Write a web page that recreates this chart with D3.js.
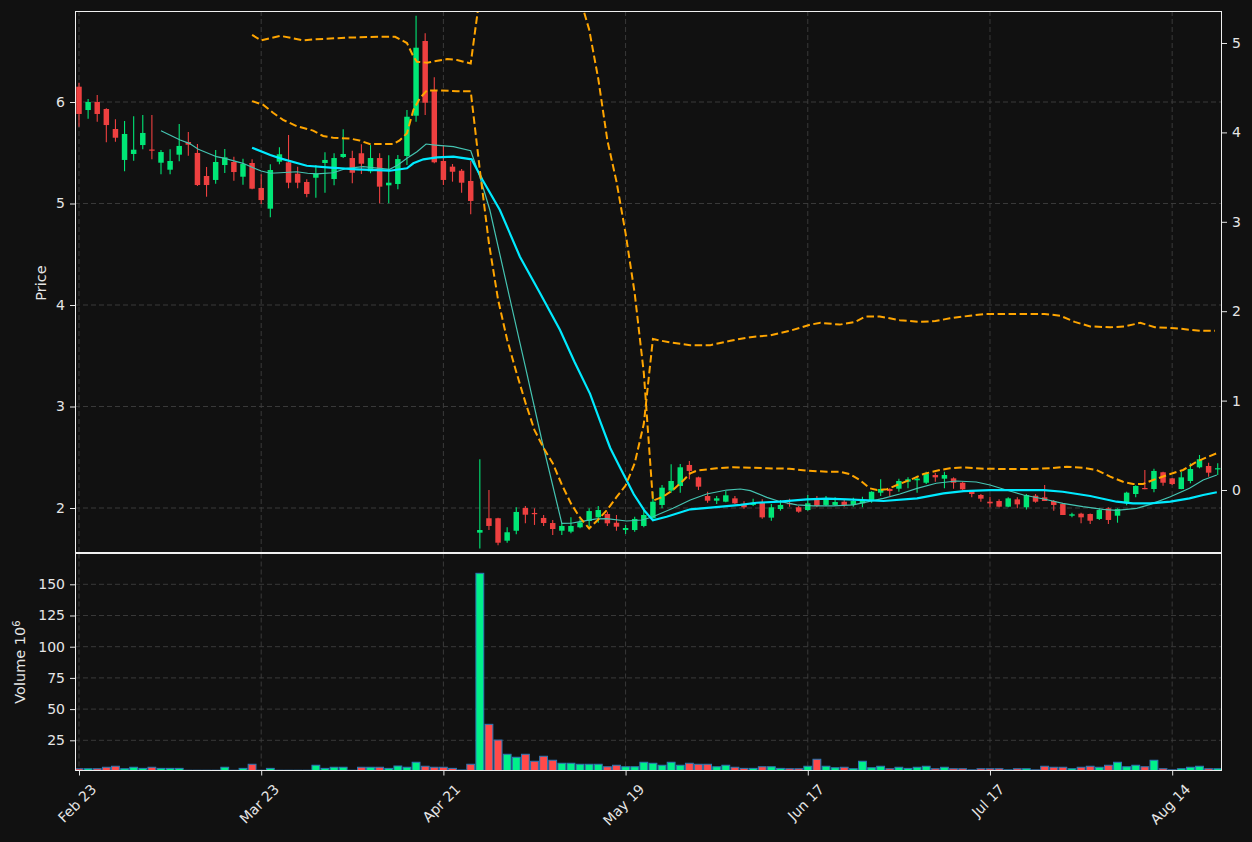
<!DOCTYPE html>
<html>
<head>
<meta charset="utf-8">
<script src="https://cdn.jsdelivr.net/npm/d3@7"></script>
<style>
html,body{margin:0;padding:0;background:#111111;}
svg{display:block;}
text{font-family:"DejaVu Sans",sans-serif;}
</style>
</head>
<body>
<svg id="chart" width="1252" height="842"></svg>
<script>
// ---------------- DATA ----------------
const dateTickIdx = [0, 20, 40, 60, 80, 100, 120];
const dateLabels = ["Feb 23", "Mar 23", "Apr 21", "May 19", "Jun 17", "Jul 17", "Aug 14"];
const priceTicks = [2, 3, 4, 5, 6];
const rightTicks = [0, 1, 2, 3, 4, 5];
const volTicks = [25, 50, 75, 100, 125, 150];

const opens = [6.151,5.921,6.000,5.931,5.734,5.429,5.488,5.576,5.532,5.402,5.333,5.481,5.606,5.498,5.271,5.232,5.379,5.409,5.264,5.399,
5.153,4.949,5.412,5.406,5.294,5.212,5.254,5.399,5.241,5.458,5.448,5.495,5.317,5.448,5.179,5.192,5.468,5.865,6.601,6.108,
5.419,5.363,5.323,5.222,1.757,1.899,1.899,1.678,1.776,2.000,1.951,1.902,1.852,1.776,1.767,1.810,1.872,1.908,1.941,1.855,
1.783,1.783,1.823,1.899,2.030,2.171,2.217,2.424,2.302,2.118,2.072,2.062,2.095,2.037,2.030,2.052,1.905,1.990,2.049,2.007,
1.980,2.079,2.030,2.030,2.062,2.030,2.046,2.069,2.151,2.187,2.190,2.259,2.273,2.249,2.325,2.289,2.292,2.249,2.171,2.128,
2.062,2.069,2.013,2.085,2.007,2.121,2.105,2.069,2.039,1.924,1.944,1.941,1.892,1.997,1.924,2.046,2.138,2.197,2.187,2.352,
2.292,2.187,2.266,2.401,2.414,2.382];
const highs = [6.190,6.030,6.069,5.938,5.830,5.813,5.859,5.872,5.872,5.527,5.534,5.783,5.704,5.586,5.360,5.527,5.537,5.461,5.441,5.435,
5.288,5.386,5.554,5.675,5.363,5.238,5.379,5.504,5.495,5.731,5.520,5.583,5.576,5.495,5.475,5.478,5.921,6.850,6.677,6.243,
5.576,5.389,5.340,5.419,2.480,2.177,1.905,1.810,2.007,2.020,1.997,1.931,1.882,1.849,1.909,1.888,1.997,2.020,1.964,1.931,
1.833,1.915,1.980,2.160,2.227,2.430,2.433,2.463,2.309,2.160,2.118,2.167,2.118,2.066,2.092,2.085,2.039,2.079,2.092,2.020,
2.128,2.118,2.118,2.105,2.085,2.102,2.112,2.165,2.283,2.194,2.289,2.302,2.318,2.358,2.348,2.358,2.302,2.259,2.177,2.138,
2.112,2.085,2.105,2.105,2.138,2.138,2.227,2.079,2.046,1.954,1.954,1.947,1.997,2.007,1.997,2.160,2.224,2.374,2.387,2.358,
2.295,2.358,2.440,2.522,2.446,2.440];
const lows = [5.757,5.835,5.806,5.603,5.609,5.317,5.422,5.534,5.435,5.288,5.288,5.416,5.471,5.172,5.067,5.195,5.300,5.225,5.185,5.140,
4.995,4.864,5.386,5.150,5.150,5.061,5.057,5.106,5.179,5.448,5.199,5.291,5.298,5.002,5.002,5.140,5.379,5.806,5.872,5.396,
5.182,5.215,5.106,4.894,1.600,1.783,1.632,1.658,1.741,1.849,1.833,1.823,1.734,1.734,1.751,1.800,1.816,1.855,1.823,1.776,
1.744,1.767,1.810,1.882,1.997,2.151,2.151,2.283,2.177,2.052,2.039,2.056,2.039,1.993,2.020,1.895,1.875,1.974,2.013,1.954,
1.974,2.007,2.020,2.020,2.013,2.013,2.007,2.052,2.118,2.118,2.160,2.194,2.151,2.236,2.259,2.194,2.190,2.177,2.105,2.062,
2.007,2.007,2.007,1.997,1.984,2.052,2.069,1.974,1.931,1.908,1.849,1.842,1.882,1.842,1.855,2.026,2.105,2.184,2.154,2.220,
2.227,2.184,2.244,2.391,2.308,2.325];
const closes = [5.882,6.000,5.882,5.773,5.648,5.685,5.530,5.695,5.522,5.507,5.419,5.567,5.579,5.182,5.182,5.409,5.455,5.310,5.389,5.146,
5.034,5.330,5.485,5.205,5.205,5.094,5.294,5.429,5.448,5.488,5.303,5.392,5.448,5.166,5.205,5.438,5.855,6.535,5.993,5.406,
5.232,5.313,5.205,5.025,1.783,1.823,1.658,1.761,1.961,1.934,1.941,1.852,1.793,1.823,1.823,1.859,1.970,1.980,1.849,1.816,
1.803,1.892,1.931,2.062,2.200,2.266,2.401,2.365,2.210,2.072,2.095,2.125,2.046,2.007,2.052,1.908,2.007,2.030,2.043,1.964,
2.046,2.020,2.095,2.059,2.030,2.069,2.079,2.160,2.187,2.167,2.266,2.283,2.289,2.335,2.302,2.325,2.249,2.184,2.138,2.092,
2.046,2.013,2.095,2.036,2.128,2.062,2.069,2.030,1.931,1.938,1.908,1.875,1.980,1.882,1.990,2.151,2.217,2.187,2.365,2.249,
2.236,2.302,2.384,2.480,2.348,2.392];
// volume in millions
const volumes = [2.2,2.2,2.2,3.4,4.2,2.2,3.4,2.5,3.4,2.5,2.5,2.5,1.0,1.0,1.0,1.0,3.4,1.0,2.5,5.8,
1.0,2.5,1.0,1.0,1.0,1.0,5.0,2.5,3.4,3.4,1.0,3.4,3.4,3.4,2.5,4.4,3.4,7.4,4.2,3.4,
3.4,2.5,1.2,5.8,158.8,37.8,25.2,13.8,11.4,13.8,8.2,12.2,9.0,6.6,6.6,5.8,5.8,5.8,3.8,5.0,
3.8,3.8,7.4,6.6,5.0,7.4,5.0,6.6,5.8,5.8,3.8,5.0,3.4,2.5,2.5,3.8,3.8,2.5,2.2,2.2,
4.2,9.8,4.2,3.0,3.4,2.2,8.2,3.0,4.2,2.2,3.4,2.5,3.4,4.2,2.2,3.4,2.2,2.2,1.3,2.2,
2.2,2.2,1.3,2.2,2.2,1.3,4.2,3.4,3.4,2.2,3.4,4.2,3.4,5.0,7.4,3.8,5.0,3.8,9.0,2.2,
1.3,2.2,3.4,4.2,2.2,2.2];

// moving averages: [bar index, price]
const maFast = [[9.0,5.717],[11.1,5.626],[12.1,5.593],[13.1,5.534],[15.1,5.461],[16.0,5.445],[18.0,5.396],[19.0,5.357],
[20.0,5.320],[21.0,5.298],[22.1,5.303],[23.9,5.313],[25.1,5.298],[26.1,5.291],[27.9,5.303],[29.4,5.347],[31.2,5.363],
[33.0,5.347],[34.1,5.337],[35.0,5.379],[36.0,5.445],[37.1,5.510],[38.1,5.586],[39.1,5.576],[41.1,5.560],[43.0,5.520],
[44.0,5.264],[45.1,4.936],[47.0,4.180],[49.0,3.390],[50.8,2.670],[53.0,1.849],[54.0,1.850],[55.0,1.865],[56.8,1.892],
[57.9,1.895],[60.1,1.872],[61.8,1.882],[63.0,1.914],[65.2,1.997],[67.1,2.079],[68.9,2.138],[71.1,2.177],[72.6,2.187],
[73.7,2.171],[75.5,2.105],[77.0,2.062],[78.8,2.030],[80.6,2.020],[82.8,2.020],[85.0,2.030],[88.3,2.095],[90.1,2.138],
[92.0,2.194],[94.1,2.244],[96.3,2.266],[98.5,2.256],[100.0,2.227],[101.8,2.177],[103.7,2.128],[105.9,2.089],[108.0,2.046],
[110.2,2.013],[112.4,1.987],[113.9,1.977],[116.1,1.997],[117.6,2.036],[119.8,2.111],[121.9,2.194],[123.4,2.276],[124.9,2.325]];
const maSlow = [[19.0,5.550],[21.0,5.478],[22.1,5.445],[25.0,5.372],[27.6,5.353],[30.5,5.337],[34.1,5.323],[36.0,5.347],
[36.7,5.396],[37.8,5.435],[39.3,5.455],[41.1,5.461],[43.1,5.435],[44.3,5.232],[46.2,4.936],[48.4,4.476],[50.6,4.118],
[52.8,3.754],[54.4,3.438],[56.1,3.125],[57.2,2.857],[58.3,2.594],[59.4,2.397],[60.9,2.135],[62.1,1.970],[63.0,1.878],
[64.5,1.914],[67.1,1.987],[69.6,2.007],[72.6,2.030],[74.4,2.052],[76.9,2.062],[79.9,2.085],[82.1,2.092],[84.3,2.085],
[88.3,2.069],[92.0,2.095],[94.9,2.144],[97.1,2.167],[100.0,2.177],[105.9,2.177],[108.0,2.160],[111.0,2.118],[113.9,2.062],
[115.7,2.046],[117.6,2.046],[119.8,2.062],[121.9,2.095],[123.4,2.128],[124.9,2.155]];

// dashed bands on the secondary axis: [bar index, value]
const bandA = [[19.0,5.09],[20.0,5.03],[22.1,5.08],[24.6,5.03],[25.7,5.04],[29.4,5.06],[33.0,5.07],[34.7,5.07],[36.0,5.00],
[36.7,4.85],[37.1,4.79],[38.2,4.78],[40.4,4.82],[41.5,4.81],[43.0,4.77],[44.0,5.53],[45.0,6.40],[46.0,7.00],[47.0,7.30],
[48.0,7.40],[49.0,7.40],[50.0,7.30],[51.0,7.10],[52.0,6.80],[53.0,6.40],[54.0,6.00],[55.0,5.50],[56.0,5.15],[57.0,4.60],
[58.0,3.91],[59.0,3.45],[60.0,2.87],[61.0,2.20],[62.0,1.31],[63.0,-0.12],[64.1,-0.075],[65.2,0.0],[66.3,0.104],[67.1,0.187],
[67.8,0.216],[70.0,0.243],[71.8,0.254],[73.7,0.249],[75.5,0.243],[78.0,0.238],[79.9,0.216],[82.1,0.205],[83.5,0.205],
[84.6,0.179],[85.7,0.112],[86.8,0.019],[87.6,0.0],[88.7,0.008],[89.8,0.056],[91.2,0.112],[92.7,0.179],[94.5,0.224],
[95.6,0.243],[97.1,0.254],[99.3,0.238],[101.5,0.235],[104.4,0.235],[106.6,0.243],[108.4,0.261],[110.2,0.249],[111.7,0.224],
[113.2,0.149],[114.6,0.093],[115.7,0.067],[116.8,0.067],[117.9,0.112],[119.8,0.179],[121.2,0.224],[122.7,0.317],
[123.8,0.366],[124.9,0.411]];
const bandB = [[19.0,4.35],[20.2,4.31],[21.3,4.22],[22.4,4.14],[23.9,4.07],[25.7,4.02],[26.8,3.96],[27.9,3.94],[29.8,3.93],
[30.8,3.91],[31.9,3.87],[34.5,3.87],[35.2,3.91],[36.0,3.99],[36.7,4.25],[37.4,4.38],[38.2,4.47],[39.6,4.47],[41.5,4.46],
[43.0,4.46],[44.0,3.58],[45.0,2.76],[46.0,2.13],[47.0,1.68],[48.0,1.32],[49.0,0.98],[50.0,0.67],[51.0,0.47],[52.0,0.30],
[53.0,0.06],[54.0,-0.15],[55.0,-0.31],[56.0,-0.43],[57.0,-0.33],[58.0,-0.22],[59.0,-0.08],[60.0,0.05],[61.0,0.30],
[62.0,0.74],[63.0,1.69],[63.4,1.68],[64.9,1.65],[67.1,1.62],[69.3,1.62],[71.5,1.67],[73.7,1.71],[75.9,1.73],[78.0,1.78],
[80.3,1.85],[81.4,1.87],[83.5,1.85],[85.2,1.88],[86.3,1.94],[87.9,1.94],[90.1,1.90],[92.3,1.88],[94.0,1.89],[95.6,1.92],
[97.8,1.95],[99.5,1.97],[101.1,1.97],[104.4,1.97],[106.0,1.97],[107.7,1.95],[109.3,1.88],[111.0,1.83],[113.2,1.82],
[114.8,1.83],[116.5,1.87],[118.1,1.82],[120.3,1.81],[123.1,1.78],[124.7,1.78]];

// ---------------- LAYOUT ----------------
const L = 75, R = 1221, T = 11, M = 552, VT = 553.5, B = 770;
const FG = "#e6e6e6";
const UP = "#00e676", DOWN = "#ee4040";
const VUP = "#00f08a", VDOWN = "#ff4a4a";

const svg = d3.select("#chart");
svg.append("rect").attr("width", 1252).attr("height", 842).attr("fill", "#111111");

const x = d3.scaleLinear().domain([-0.44, 125.36]).range([L, R]);
const step = x(1) - x(0);
const yP = d3.scaleLinear().domain([1.5665, 6.8966]).range([M, T]);
const yS = d3.scaleLinear().domain([-0.6935, 5.358]).range([M, T]);
const yV = d3.scaleLinear().domain([1.2, 175.88]).range([B, M]);

const defs = svg.append("defs");
defs.append("clipPath").attr("id", "clipP").append("rect")
  .attr("x", L).attr("y", T).attr("width", R - L).attr("height", M - T);
defs.append("clipPath").attr("id", "clipV").append("rect")
  .attr("x", L).attr("y", VT).attr("width", R - L).attr("height", B - VT);

// ---------------- GRID ----------------
const grid = svg.append("g").attr("stroke", "#3e3e3e").attr("stroke-width", 0.9)
  .attr("stroke-dasharray", "5,3").attr("fill", "none");
priceTicks.forEach(t => grid.append("line").attr("x1", L).attr("x2", R).attr("y1", yP(t)).attr("y2", yP(t)));
volTicks.forEach(t => grid.append("line").attr("x1", L).attr("x2", R).attr("y1", yV(t)).attr("y2", yV(t)));
dateTickIdx.forEach(i => {
  grid.append("line").attr("x1", x(i)).attr("x2", x(i)).attr("y1", T).attr("y2", M);
  grid.append("line").attr("x1", x(i)).attr("x2", x(i)).attr("y1", VT).attr("y2", B);
});

// ---------------- CANDLES ----------------
const idx = d3.range(opens.length);
const cg = svg.append("g").attr("clip-path", "url(#clipP)");
const bw = step * 0.6;
cg.selectAll("line.wick").data(idx).join("line")
  .attr("x1", i => x(i)).attr("x2", i => x(i))
  .attr("y1", i => yP(highs[i])).attr("y2", i => yP(lows[i]))
  .attr("stroke", i => closes[i] >= opens[i] ? UP : DOWN).attr("stroke-width", 1.1);
cg.selectAll("rect.body").data(idx).join("rect")
  .attr("x", i => x(i) - bw / 2).attr("width", bw)
  .attr("y", i => yP(Math.max(opens[i], closes[i])))
  .attr("height", i => Math.max(1.2, Math.abs(yP(opens[i]) - yP(closes[i]))))
  .attr("fill", i => closes[i] >= opens[i] ? UP : DOWN);

// ---------------- LINES ----------------
const lineP = d3.line().x(d => x(d[0])).y(d => yP(d[1]));
const lineS = d3.line().x(d => x(d[0])).y(d => yS(d[1]));
cg.append("path").datum(maFast).attr("d", lineP).attr("fill", "none")
  .attr("stroke", "#45c4b2").attr("stroke-width", 1.2);
cg.append("path").datum(maSlow).attr("d", lineP).attr("fill", "none")
  .attr("stroke", "#00eaff").attr("stroke-width", 2.2);
[bandA, bandB].forEach(b => {
  cg.append("path").datum(b).attr("d", lineS).attr("fill", "none")
    .attr("stroke", "#ffa500").attr("stroke-width", 2).attr("stroke-dasharray", "7.5,3.5");
});

// ---------------- VOLUME ----------------
const vg = svg.append("g").attr("clip-path", "url(#clipV)");
const vw = step * 0.86;
vg.selectAll("rect").data(idx).join("rect")
  .attr("x", i => x(i) - vw / 2).attr("width", vw)
  .attr("y", i => yV(volumes[i])).attr("height", i => yV(0) - yV(volumes[i]))
  .attr("fill", i => closes[i] >= opens[i] ? VUP : VDOWN)
  .attr("stroke", "#2b78b6").attr("stroke-width", 1);

// ---------------- FRAMES ----------------
svg.append("rect").attr("x", L + 0.5).attr("y", T + 0.5).attr("width", R - L).attr("height", M - T)
  .attr("fill", "none").attr("stroke", "#f0f0f0").attr("stroke-width", 1);
svg.append("rect").attr("x", L + 0.5).attr("y", VT).attr("width", R - L).attr("height", B - VT + 0.5)
  .attr("fill", "none").attr("stroke", "#f0f0f0").attr("stroke-width", 1);

// ---------------- AXES ----------------
function styleAxis(g) {
  g.select(".domain").remove();
  g.selectAll(".tick line").attr("stroke", FG).attr("stroke-width", 1);
  g.selectAll(".tick text").attr("fill", FG).style("font-size", "14px")
    .style("font-family", '"DejaVu Sans", sans-serif');
}
svg.append("g").attr("transform", `translate(${L},0)`)
  .call(d3.axisLeft(yP).tickValues(priceTicks).tickSize(5).tickPadding(5).tickFormat(d3.format("d")))
  .call(styleAxis);
svg.append("g").attr("transform", `translate(${R + 1},0)`)
  .call(d3.axisRight(yS).tickValues(rightTicks).tickSize(5).tickPadding(5).tickFormat(d3.format("d")))
  .call(styleAxis);
svg.append("g").attr("transform", `translate(${L},0)`)
  .call(d3.axisLeft(yV).tickValues(volTicks).tickSize(5).tickPadding(5).tickFormat(d3.format("d")))
  .call(styleAxis);
const xg = svg.append("g").attr("transform", `translate(0,${B + 0.5})`)
  .call(d3.axisBottom(x).tickValues(dateTickIdx).tickSize(5).tickFormat((d, i) => dateLabels[i]))
  .call(styleAxis);
xg.selectAll(".tick text").each(function () {
  const t = d3.select(this);
  const len = this.getComputedTextLength();
  const cy = 10.5 + (len + 16) * 0.3536;
  t.attr("y", null).attr("dy", null)
    .attr("text-anchor", "middle").attr("dominant-baseline", "central")
    .attr("transform", `translate(-2.5,${cy}) rotate(-45)`).attr("x", 0);
});

// ---------------- LABELS ----------------
svg.append("text").attr("transform", "translate(41,283) rotate(-90)")
  .attr("text-anchor", "middle").attr("dominant-baseline", "central")
  .attr("fill", FG).style("font-size", "14.5px").text("Price");
const vl = svg.append("text").attr("transform", "translate(20,662) rotate(-90)")
  .attr("text-anchor", "middle").attr("dominant-baseline", "central")
  .attr("fill", FG).style("font-size", "14.5px");
vl.append("tspan").text("Volume  10");
vl.append("tspan").attr("dy", "-0.45em").style("font-size", "10px").text("6");
</script>
</body>
</html>
